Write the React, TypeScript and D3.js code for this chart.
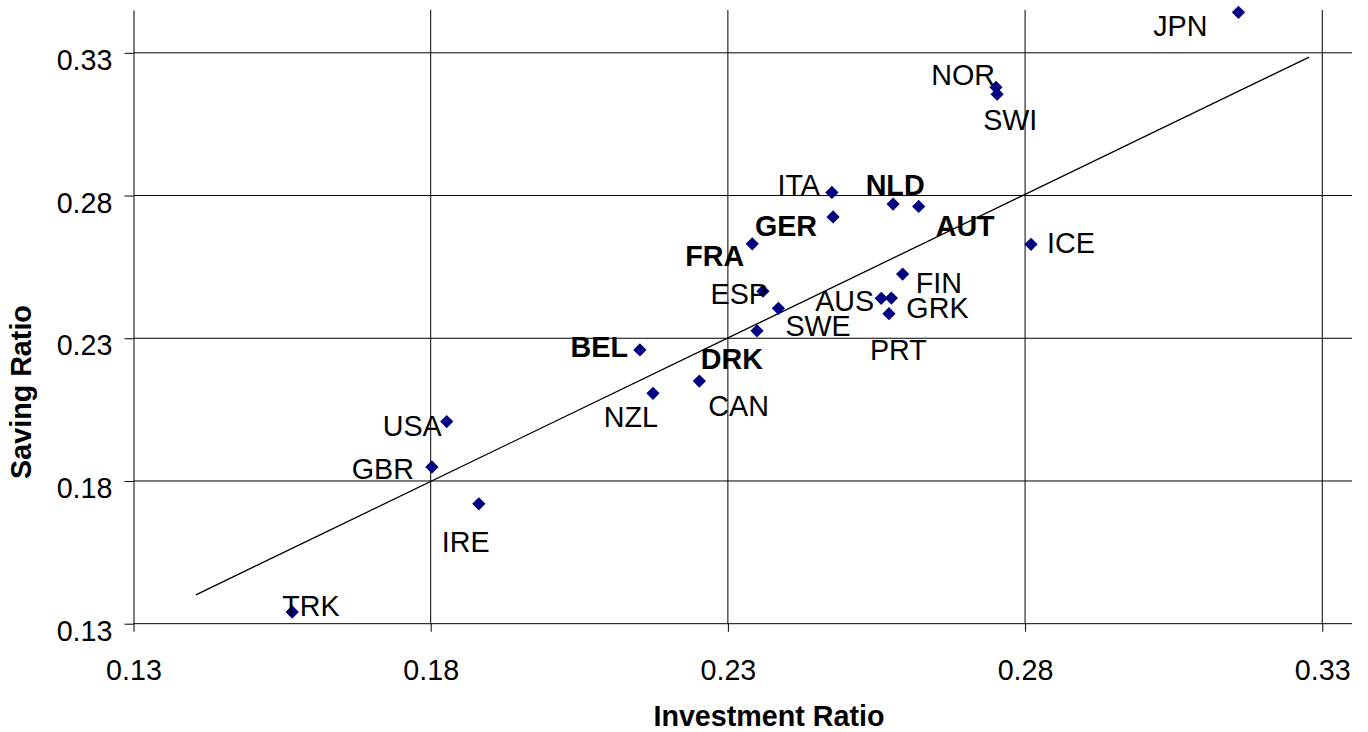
import * as d3 from 'd3';
import React, { useEffect } from 'react';

// country codes, investment ratio (x) and saving ratio (y)
const countries = ['JPN', 'NOR', 'SWI', 'ITA', 'GER', 'FRA', 'NLD', 'AUT', 'ICE', 'FIN', 'AUS', 'GRK', 'PRT', 'ESP', 'SWE', 'DRK', 'BEL', 'CAN', 'NZL', 'USA', 'GBR', 'IRE', 'TRK'];
const investment = [0.3159, 0.2751, 0.2753, 0.2475, 0.2477, 0.2341, 0.2578, 0.2621, 0.281, 0.2594, 0.2558, 0.2575, 0.2571, 0.2359, 0.2385, 0.2349, 0.2152, 0.2252, 0.2174, 0.1827, 0.1802, 0.1881, 0.1567];
const saving = [0.3442, 0.3179, 0.3155, 0.2811, 0.2725, 0.2631, 0.277, 0.2762, 0.2629, 0.2525, 0.244, 0.2441, 0.2386, 0.2465, 0.2405, 0.2326, 0.2259, 0.215, 0.2107, 0.2008, 0.1849, 0.172, 0.1341];
const boldCountries = ['NLD', 'GER', 'FRA', 'AUT', 'BEL', 'DRK'];

// fitted line end points
const trendX = [0.1405, 0.3278];
const trendY = [0.1401, 0.3285];

const xTicks = [0.13, 0.18, 0.23, 0.28, 0.33];
const yTicks = [0.13, 0.18, 0.23, 0.28, 0.33];

// label placement relative to the marker: [dx, dy, anchor]
const labelPos: Record<string, [number, number, string]> = {
  JPN: [-31, 24, 'end'],
  NOR: [-1, -2, 'end'],
  SWI: [-14, 36, 'start'],
  ITA: [-12, 3, 'end'],
  GER: [-16, 19, 'end'],
  FRA: [-8, 22, 'end'],
  NLD: [2, -9, 'middle'],
  AUT: [17, 30, 'start'],
  ICE: [16, 9, 'start'],
  FIN: [13, 19, 'start'],
  AUS: [-7, 13, 'end'],
  GRK: [15, 20, 'start'],
  PRT: [-19, 46, 'start'],
  ESP: [5, 13, 'end'],
  SWE: [7, 28, 'start'],
  DRK: [6, 38, 'end'],
  BEL: [-12, 7, 'end'],
  CAN: [9, 35, 'start'],
  NZL: [5, 34, 'end'],
  USA: [-5, 14, 'end'],
  GBR: [-18, 12, 'end'],
  IRE: [-37, 48, 'start'],
  TRK: [-10, 4, 'start'],
};

const W = 1368;
const H = 732;
const FONT = '"Liberation Sans", Arial, sans-serif';
const FS = 28.7;

export default function App() {
  const ref = React.useRef<HTMLDivElement>(null);

  useEffect(() => {
    if (!ref.current) return;
    ref.current.innerHTML = '';

    const left = 133.5, right = 1352, top = 10, bottom = 623.7;

    const svg = d3
      .select(ref.current)
      .append('svg')
      .attr('width', W)
      .attr('height', H)
      .style('display', 'block')
      .style('font-family', FONT);

    svg.append('rect').attr('width', W).attr('height', H).attr('fill', '#fff');

    const x = d3.scaleLinear().domain([0.13, 0.335]).range([left, right]);
    const y = d3.scaleLinear().domain([0.13, 0.345]).range([bottom, top]);

    // gridlines
    svg
      .selectAll('line.hgrid')
      .data(yTicks.slice(1))
      .enter()
      .append('line')
      .attr('x1', left)
      .attr('x2', right)
      .attr('y1', d => y(d))
      .attr('y2', d => y(d))
      .attr('stroke', '#000')
      .attr('stroke-width', 1);
    svg
      .selectAll('line.vgrid')
      .data(xTicks.slice(1))
      .enter()
      .append('line')
      .attr('x1', d => x(d))
      .attr('x2', d => x(d))
      .attr('y1', top)
      .attr('y2', bottom)
      .attr('stroke', '#000')
      .attr('stroke-width', 1);

    // axes
    const fmt = d3.format('.2f');
    const xAxis = svg
      .append('g')
      .attr('transform', `translate(0,${bottom})`)
      .call(d3.axisBottom(x).tickValues(xTicks).tickSizeInner(8).tickSizeOuter(0).tickPadding(28).tickFormat(d => fmt(d as number)));
    xAxis.select('.domain').attr('d', `M${left},0H${right}`);
    const yAxis = svg
      .append('g')
      .attr('transform', `translate(${left},0)`)
      .call(d3.axisLeft(y).tickValues(yTicks).tickSizeInner(9).tickSizeOuter(0).tickPadding(12).tickFormat(d => fmt(d as number)));
    [xAxis, yAxis].forEach(g => {
      g.selectAll('text').attr('font-size', FS).attr('font-family', FONT).attr('fill', '#000');
      g.selectAll('line').attr('stroke', '#000');
      g.select('.domain').attr('stroke', '#000');
    });
    yAxis.selectAll('text').attr('dy', '0.58em');

    // axis titles
    svg
      .append('text')
      .attr('x', 769)
      .attr('y', 726)
      .attr('text-anchor', 'middle')
      .attr('font-size', FS)
      .attr('font-weight', 'bold')
      .text('Investment Ratio');
    svg
      .append('text')
      .attr('transform', 'translate(31,392) rotate(-90)')
      .attr('text-anchor', 'middle')
      .attr('font-size', FS)
      .attr('font-weight', 'bold')
      .text('Saving Ratio');

    // trend line
    svg
      .append('path')
      .datum(d3.zip(trendX, trendY))
      .attr('fill', 'none')
      .attr('stroke', '#000')
      .attr('stroke-width', 1.3)
      .attr('d', d3.line<number[]>().x(d => x(d[0])).y(d => y(d[1])));

    const points = countries.map((c, i) => ({ name: c, inv: investment[i], sav: saving[i] }));

    // diamonds
    svg
      .selectAll('path.pt')
      .data(points)
      .enter()
      .append('path')
      .attr('transform', d => `translate(${x(d.inv)},${y(d.sav)}) rotate(45)`)
      .attr('d', d3.symbol().type(d3.symbolSquare).size(88)())
      .attr('fill', '#000080');

    // labels
    svg
      .selectAll('text.lbl')
      .data(points)
      .enter()
      .append('text')
      .attr('x', d => x(d.inv) + labelPos[d.name][0])
      .attr('y', d => y(d.sav) + labelPos[d.name][1])
      .attr('text-anchor', d => labelPos[d.name][2])
      .attr('font-size', FS)
      .attr('font-weight', d => (boldCountries.includes(d.name) ? 'bold' : 'normal'))
      .attr('fill', '#000')
      .text(d => d.name);
  }, []);

  return <div ref={ref} style={{ position: 'absolute', left: 0, top: 0 }}></div>;
}
